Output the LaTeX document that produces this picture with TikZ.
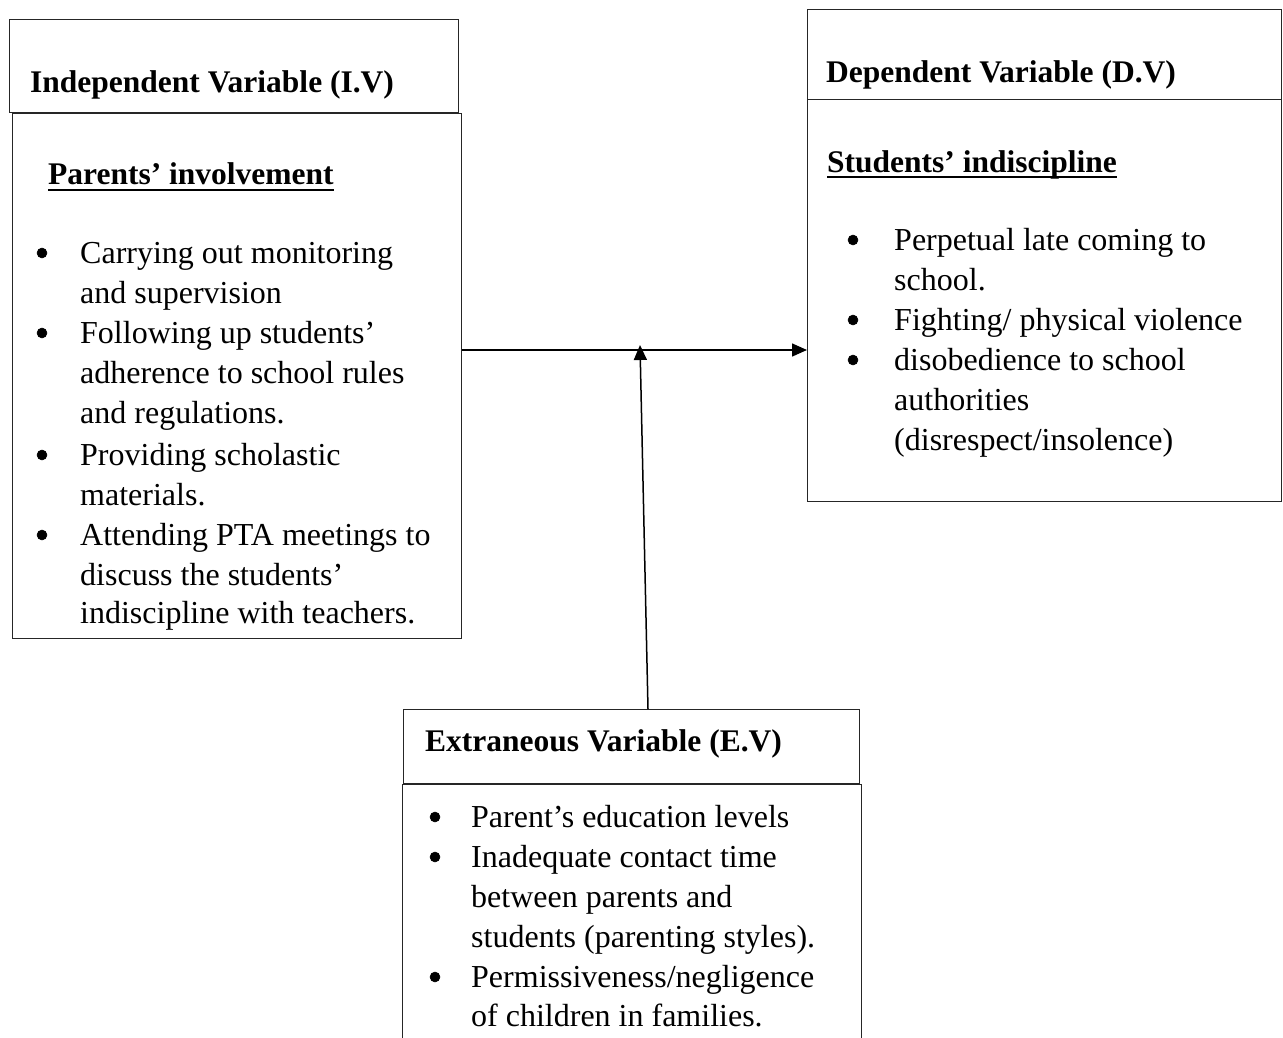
\documentclass[tikz,border=0pt]{standalone}
\usepackage{fontspec}
\setmainfont{Liberation Serif}
\usetikzlibrary{arrows.meta}
\begin{document}
\begin{tikzpicture}[x=1pt,y=-1pt,
  box/.style={draw=black!85,line width=1.3pt,inner sep=0pt,anchor=north west},
  txt/.style={anchor=base west,inner sep=0pt,font=\fontsize{32}{40}\selectfont},
  hd/.style={anchor=base west,inner sep=0pt,font=\fontsize{31.5}{40}\selectfont\bfseries},
  bul/.style={circle,fill=black,draw=black,line width=0.5pt,inner sep=0pt,minimum size=10pt},
  uline/.style={line width=2.4pt},
  arr/.style={line width=1.5pt,-{Triangle[length=15pt,width=13pt]}}]
\useasboundingbox (0,0) rectangle (1283,1038);
\begin{scope}
\clip (0,0) rectangle (1283,1038);
% boxes
\node[box,minimum width=449pt,minimum height=93pt] (ivhead) at (9,19) {};
\node[box,minimum width=449pt,minimum height=525pt] (ivbody) at (12,113) {};
\node[box,minimum width=474pt,minimum height=90pt] (dvhead) at (807,9) {};
\node[box,minimum width=474pt,minimum height=402pt] (dvbody) at (807,99) {};
\node[box,minimum width=456pt,minimum height=74pt] (evhead) at (403,709) {};
\node[box,minimum width=459pt,minimum height=300pt] (evbody) at (402,784) {};
\end{scope}
% headings
\node[hd] (ivt) at (30,93) {Independent Variable (I.V)};
\node[hd] (ivs) at (48,185) {Parents’ involvement};
\draw[uline] ([yshift=-5pt]ivs.base west) -- ([yshift=-5pt]ivs.base east);
\node[hd] (dvt) at (826,83) {Dependent Variable (D.V)};
\node[hd] (dvs) at (827,172) {Students’ indiscipline};
\draw[uline] ([yshift=-5pt]dvs.base west) -- ([yshift=-5pt]dvs.base east);
\node[hd] (evt) at (425,751) {Extraneous Variable (E.V)};
% IV list
\node[bul] (ib1) at (42,253) {};
\node[bul] (ib2) at (42,333) {};
\node[bul] (ib3) at (42,455) {};
\node[bul] (ib4) at (42,535) {};
\node[txt] (i1) at (80,263) {Carrying out monitoring};
\node[txt] (i2) at (80,303) {and supervision};
\node[txt] (i3) at (80,343) {Following up students’};
\node[txt] (i4) at (80,383) {adherence to school rules};
\node[txt] (i5) at (80,423) {and regulations.};
\node[txt] (i6) at (80,465) {Providing scholastic};
\node[txt] (i7) at (80,505) {materials.};
\node[txt] (i8) at (80,545) {Attending PTA meetings to};
\node[txt] (i9) at (80,585) {discuss the students’};
\node[txt] (i10) at (80,623) {indiscipline with teachers.};
% DV list
\node[bul] (db1) at (853,240) {};
\node[bul] (db2) at (853,320) {};
\node[bul] (db3) at (853,360) {};
\node[txt] (d1) at (894,250) {Perpetual late coming to};
\node[txt] (d2) at (894,290) {school.};
\node[txt] (d3) at (894,330) {Fighting/ physical violence};
\node[txt] (d4) at (894,370) {disobedience to school};
\node[txt] (d5) at (894,410) {authorities};
\node[txt] (d6) at (894,450) {(disrespect/insolence)};
% EV list
\node[bul] (eb1) at (435,817) {};
\node[bul] (eb2) at (435,857) {};
\node[bul] (eb3) at (435,977) {};
\node[txt] (e1) at (471,827) {Parent’s education levels};
\node[txt] (e2) at (471,867) {Inadequate contact time};
\node[txt] (e3) at (471,907) {between parents and};
\node[txt] (e4) at (471,947) {students (parenting styles).};
\node[txt] (e5) at (471,987) {Permissiveness/negligence};
\node[txt] (e6) at (471,1026) {of children in families.};
% connectors
\coordinate (mid) at (640,345);
\coordinate (evtop) at (648,709);
\draw[arr] (ivbody.east |- 0,350) -- (dvbody.west |- 0,350);
\draw[arr] (evtop) -- (mid);
\end{tikzpicture}
\end{document}
